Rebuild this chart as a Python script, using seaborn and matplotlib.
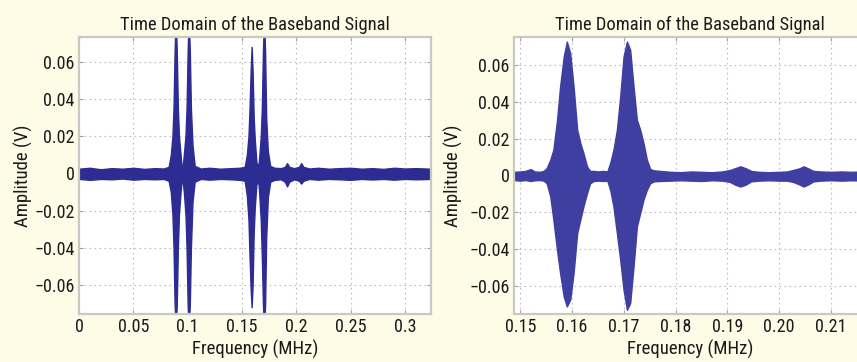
import matplotlib
matplotlib.use("Agg")
import matplotlib.pyplot as plt
from matplotlib import font_manager
import numpy as np
import pandas as pd
import seaborn as sns

# ---------------- data (envelope of the traces) ----------------
left_x = [0.000, 0.010, 0.020, 0.030, 0.040, 0.050, 0.060, 0.070, 0.078,
          0.0825, 0.0845, 0.0860, 0.0870, 0.0880, 0.0890, 0.0900, 0.0910, 0.0920, 0.0935, 0.0955,
          0.0945, 0.0965, 0.0980, 0.0990, 0.1000, 0.1010, 0.1020, 0.1030, 0.1045, 0.1065,
          0.112, 0.120, 0.130, 0.140, 0.148,
          0.1525, 0.1545, 0.1560, 0.1570, 0.1580, 0.1589, 0.1598, 0.1608, 0.1618, 0.1633,
          0.1650, 0.1658, 0.1673, 0.1683, 0.1693, 0.1703, 0.1713, 0.1723, 0.1738, 0.1760,
          0.180, 0.186, 0.1895, 0.1915, 0.1935, 0.198, 0.2025, 0.2045, 0.2065, 0.212,
          0.220, 0.230, 0.240, 0.250, 0.260, 0.270, 0.280, 0.290, 0.300, 0.310, 0.324]
left_upper = [0.0025, 0.0030, 0.0022, 0.0028, 0.0025, 0.0030, 0.0024, 0.0028, 0.0026,
              0.0035, 0.0100, 0.0200, 0.0350, 0.0650, 0.0850, 0.0650, 0.0350, 0.0200, 0.0100, 0.0040,
              0.0030, 0.0100, 0.0200, 0.0350, 0.0650, 0.0850, 0.0650, 0.0350, 0.0150, 0.0040,
              0.0026, 0.0030, 0.0025, 0.0028, 0.0030,
              0.0035, 0.0100, 0.0200, 0.0350, 0.0550, 0.0680, 0.0550, 0.0300, 0.0180, 0.0060,
              0.0035, 0.0080, 0.0200, 0.0350, 0.0650, 0.0850, 0.0650, 0.0300, 0.0120, 0.0040,
              0.0030, 0.0028, 0.0035, 0.0055, 0.0035, 0.0028, 0.0035, 0.0055, 0.0035, 0.0026,
              0.0030, 0.0025, 0.0028, 0.0030, 0.0025, 0.0028, 0.0024, 0.0030, 0.0026, 0.0028, 0.0025]
left_lower = [-0.0030, -0.0035, -0.0030, -0.0032, -0.0028, -0.0034, -0.0030, -0.0032, -0.0030,
              -0.0040, -0.0100, -0.0220, -0.0400, -0.0700, -0.0850, -0.0700, -0.0400, -0.0220, -0.0100, -0.0045,
              -0.0035, -0.0100, -0.0220, -0.0400, -0.0700, -0.0850, -0.0700, -0.0400, -0.0150, -0.0045,
              -0.0030, -0.0034, -0.0030, -0.0032, -0.0035,
              -0.0040, -0.0120, -0.0250, -0.0450, -0.0620, -0.0720, -0.0600, -0.0320, -0.0180, -0.0060,
              -0.0040, -0.0100, -0.0250, -0.0450, -0.0700, -0.0850, -0.0700, -0.0350, -0.0130, -0.0045,
              -0.0035, -0.0032, -0.0045, -0.0070, -0.0045, -0.0032, -0.0040, -0.0055, -0.0040, -0.0030,
              -0.0034, -0.0030, -0.0032, -0.0035, -0.0030, -0.0033, -0.0030, -0.0034, -0.0030, -0.0032, -0.0030]

right_x = [0.1488, 0.1500, 0.1510, 0.1520, 0.1528, 0.1538, 0.1545,
           0.1551, 0.1558, 0.1564, 0.1571, 0.1577, 0.1584, 0.1590, 0.15965, 0.1603, 0.1610,
           0.1616, 0.1622, 0.1629, 0.1635, 0.1642,
           0.1650, 0.1660, 0.1668,
           0.16737, 0.1680, 0.16866, 0.1693, 0.16995, 0.1706, 0.17123, 0.17188, 0.17252,
           0.17316, 0.1738, 0.17445, 0.1751, 0.1758,
           0.1770, 0.1790, 0.1810, 0.1830, 0.1850, 0.1870, 0.1890,
           0.1905, 0.1915, 0.1925, 0.1935, 0.1946, 0.1960, 0.1980, 0.2000, 0.2015,
           0.2027, 0.2040, 0.2047, 0.2055, 0.2066, 0.2080, 0.2100, 0.2120, 0.2140, 0.2166]
right_upper = [0.0020, 0.0022, 0.0025, 0.0035, 0.0022, 0.0020, 0.0025,
               0.0040, 0.0086, 0.0140, 0.0300, 0.0485, 0.0649, 0.0730, 0.0667, 0.0485, 0.0249,
               0.0177, 0.0122, 0.0049, 0.0025, 0.0025,
               0.0022, 0.0025, 0.0022,
               0.0068, 0.0140, 0.0249, 0.0430, 0.0649, 0.0730, 0.0685, 0.0485, 0.0304,
               0.0249, 0.0177, 0.0086, 0.0035, 0.0028,
               0.0025, 0.0020, 0.0018, 0.0022, 0.0020, 0.0018, 0.0022,
               0.0030, 0.0040, 0.0050, 0.0040, 0.0025, 0.0020, 0.0018, 0.0020, 0.0022,
               0.0030, 0.0040, 0.0050, 0.0040, 0.0025, 0.0022, 0.0020, 0.0022, 0.0020, 0.0022]
right_lower = [-0.0025, -0.0028, -0.0025, -0.0030, -0.0026, -0.0025, -0.0028,
               -0.0042, -0.0114, -0.0241, -0.0405, -0.0532, -0.0660, -0.0714, -0.0677, -0.0532, -0.0314,
               -0.0241, -0.0169, -0.0096, -0.0042, -0.0030,
               -0.0028, -0.0030, -0.0028,
               -0.0078, -0.0169, -0.0314, -0.0459, -0.0623, -0.0732, -0.0695, -0.0496, -0.0278,
               -0.0205, -0.0132, -0.0078, -0.0042, -0.0032,
               -0.0030, -0.0028, -0.0026, -0.0028, -0.0030, -0.0026, -0.0028,
               -0.0035, -0.0050, -0.0060, -0.0050, -0.0032, -0.0028, -0.0026, -0.0028, -0.0028,
               -0.0035, -0.0050, -0.0060, -0.0050, -0.0032, -0.0028, -0.0026, -0.0028, -0.0026, -0.0028]

left_xticks = [0, 0.05, 0.1, 0.15, 0.2, 0.25, 0.3]
left_xticklabels = ["0", "0.05", "0.1", "0.15", "0.2", "0.25", "0.3"]
right_xticks = [0.15, 0.16, 0.17, 0.18, 0.19, 0.20, 0.21]
right_xticklabels = ["0.15", "0.16", "0.17", "0.18", "0.19", "0.20", "0.21"]
yticks = [-0.06, -0.04, -0.02, 0, 0.02, 0.04, 0.06]
yticklabels = ["\u22120.06", "\u22120.04", "\u22120.02", "0", "0.02", "0.04", "0.06"]

title = "Time Domain of the Baseband Signal"
xlabel = "Frequency (MHz)"
ylabel = "Amplitude (V)"

# ---------------- style ----------------
sns.set_theme(style="white")
BG = "#fefbe6"
fam = "DejaVu Sans"
for cand in ["Roboto Condensed", "Liberation Sans Narrow", "Open Sans Condensed"]:
    try:
        font_manager.findfont(cand, fallback_to_default=False)
        fam = cand
        break
    except Exception:
        pass
plt.rcParams["font.family"] = [fam, "DejaVu Sans"]

fig = plt.figure(figsize=(8.57, 3.62), dpi=100, facecolor=BG)
axL = fig.add_axes([79 / 857, 1 - 314 / 362, 352 / 857, 277 / 362])
axR = fig.add_axes([514 / 857, 1 - 314 / 362, 352 / 857, 277 / 362])


def draw(ax, xs, up, lo, band):
    df = pd.DataFrame({"x": list(xs) + list(xs), "amp": list(up) + list(lo)})
    sns.lineplot(data=df, x="x", y="amp", estimator="mean", errorbar=("pi", 100),
                 color=band, lw=0, ax=ax,
                 err_kws={"alpha": 1.0, "facecolor": band, "edgecolor": band, "linewidth": 1.0})


draw(axL, left_x, left_upper, left_lower, "#2c2c92")
draw(axR, right_x, right_upper, right_lower, "#3f3fa2")

axL.set_xlim(0, 0.324)
axL.set_ylim(-0.0756, 0.0733)
axR.set_xlim(0.1488, 0.1488 + 352 / 5180)
axR.set_ylim(-0.0755, 0.0755)

for ax, xt, xtl, ylx in [(axL, left_xticks, left_xticklabels, -0.131),
                         (axR, right_xticks, right_xticklabels, -0.145)]:
    ax.set_facecolor("white")
    ax.set_xticks(xt)
    ax.set_xticklabels(xtl)
    ax.set_yticks(yticks)
    ax.set_yticklabels(yticklabels)
    ax.grid(True, linestyle=(0, (1.5, 3)), color="#bcbcbc", linewidth=0.8)
    ax.set_axisbelow(True)
    for s in ax.spines.values():
        s.set_color("#c9c9c2")
        s.set_linewidth(1.6)
    ax.tick_params(direction="in", length=3, width=0.8, color="#a0a0a0",
                   labelsize=13, labelcolor="#1a1a1a", pad=3,
                   bottom=True, left=True, top=True, right=True)
    ax.set_title(title, fontsize=13.3, color="#1a1a1a", pad=5)
    ax.set_xlabel(xlabel, fontsize=13.5, color="#1a1a1a")
    ax.set_ylabel(ylabel, fontsize=13.5, color="#1a1a1a")
    ax.xaxis.set_label_coords(0.5, -0.094)
    ax.yaxis.set_label_coords(ylx, 0.5)

fig.savefig("out.png", dpi=100, facecolor=BG)
